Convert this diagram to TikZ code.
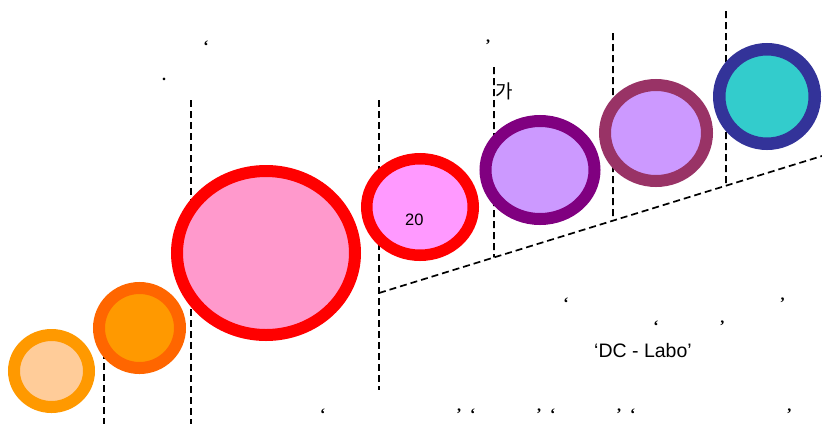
\documentclass[tikz,border=0pt]{standalone}
\usepackage{fontspec}
\setmainfont{Liberation Sans}
\newfontfamily\krfont{Noto Sans CJK KR}
\newfontfamily\qfont{Liberation Serif}
\usetikzlibrary{shapes.geometric,calc}
\definecolor{amber}{HTML}{FF9900}
\definecolor{peach}{HTML}{FFCC99}
\definecolor{tangerine}{HTML}{FF6600}
\definecolor{rose}{HTML}{FF99CC}
\definecolor{pinkish}{HTML}{FF99FF}
\definecolor{plum}{HTML}{800080}
\definecolor{lilac}{HTML}{CC99FF}
\definecolor{wine}{HTML}{993366}
\definecolor{indigo}{HTML}{333399}
\definecolor{aqua}{HTML}{33CCCC}
\tikzset{bub/.style={ellipse,line width=12pt,inner sep=0pt},
 guide/.style={draw=black,line width=1.7pt,dash pattern=on 7pt off 4pt},
 qt/.style={font=\qfont\bfseries\fontsize{16}{16}\selectfont,inner sep=0pt,anchor=base},
 lbl/.style={inner sep=0pt,anchor=base}}

\begin{document}
\begin{tikzpicture}[x=1pt,y=-1pt]
\useasboundingbox (0,0) rectangle (822,424);
\coordinate (k1) at (379,293);
\coordinate (k2) at (822,156);
\draw[guide] (104,330) -- (104,424);
\draw[guide] (191,100) -- (191,424);
\draw[guide] (379,100) -- (379,390);
\draw[guide] (k1) -- (k2);
\foreach \x/\t in {494/67,613/33,726/11}
 \draw[guide] (\x,\t) -- ($(k1)!{(\x-379)/443}!(k2)$);
\node[bub,draw=amber,fill=peach,minimum width=75pt,minimum height=72pt] (c1) at (51.5,371) {};
\node[bub,draw=tangerine,fill=amber,minimum width=81pt,minimum height=80pt] (c2) at (139.5,328) {};
\node[bub,draw=red,fill=rose,minimum width=178pt,minimum height=164pt] (c3) at (266,253) {};
\node[bub,draw=red,fill=pinkish,line width=11.5pt,minimum width=106.5pt,minimum height=96.5pt] (c4) at (420,207) {};
\node[bub,draw=plum,fill=lilac,minimum width=109pt,minimum height=98pt] (c5) at (540,170) {};
\node[bub,draw=wine,fill=lilac,minimum width=102pt,minimum height=96pt] (c6) at (656,133) {};
\node[bub,draw=indigo,fill=aqua,line width=12.5pt,minimum width=95.5pt,minimum height=94.5pt] (c7) at (767,96.5) {};
\node[lbl,font=\fontsize{16.5}{16.5}\selectfont] (n20) at (414.3,225) {20};
\node[lbl,font=\krfont\fontsize{19}{19}\selectfont] (ga) at (504.5,98) {가};
\node[lbl,font=\fontsize{19.5}{19.5}\selectfont] (lab) at (643,357.5) {‘DC - Labo’};
\node[qt] (q1) at (206,51) {‘};
\node[qt] (q2) at (488,50) {’};
\node[qt] (dot) at (164,80) {.};
\node[qt] (q3) at (566,308) {‘};
\node[qt] (q4) at (782.5,308) {’};
\node[qt] (q5) at (656,331) {‘};
\node[qt] (q6) at (722.3,331) {’};
\foreach \x/\q [count=\i] in {322.7/‘,459/’,472.7/‘,539/’,552.7/‘,619/’,632.7/‘,789.3/’}
 \node[qt] (b\i) at (\x,419) {\q};
\end{tikzpicture}
\end{document}
